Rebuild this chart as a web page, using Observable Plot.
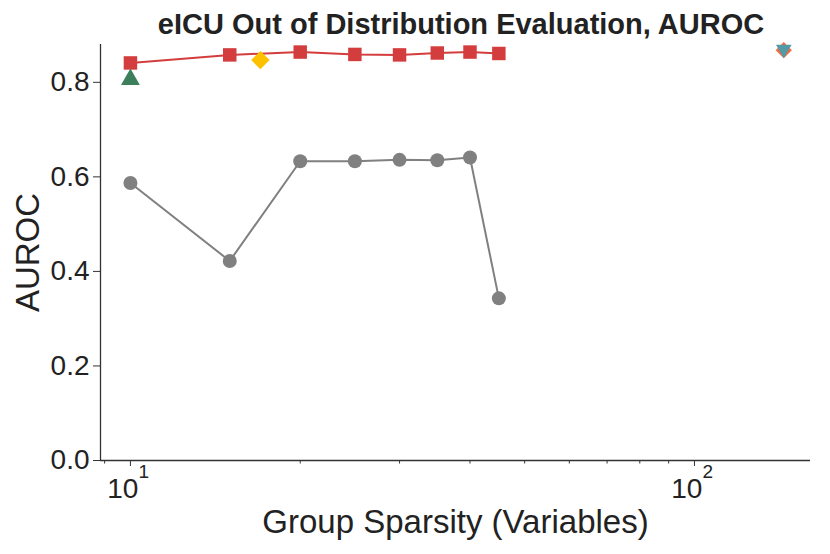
<!DOCTYPE html>
<html>
<head>
<meta charset="utf-8">
<script src="https://cdn.jsdelivr.net/npm/d3@7"></script>
<script src="https://cdn.jsdelivr.net/npm/@observablehq/plot@0.6"></script>
<style>
  body { margin: 0; background: #fff; }
  #title { height: 40px; width: 830px; position: relative; font-family: "Liberation Sans", Arial, sans-serif; font-weight: bold; font-size: 29px; line-height: 29px; color: #222; }
  #title span { position: absolute; left: 461px; top: 10px; transform: translateX(-50%); white-space: nowrap; }
</style>
</head>
<body>
<div id="title"><span>eICU Out of Distribution Evaluation, AUROC</span></div>
<div id="chart"></div>
<script>
// Data
const sparsity = [10, 15, 20, 25, 30, 35, 40, 45];
const redAUROC = [0.841, 0.858, 0.864, 0.859, 0.858, 0.862, 0.864, 0.861];
const greyAUROC = [0.587, 0.422, 0.633, 0.633, 0.636, 0.635, 0.641, 0.343];
const greenX = [10];      const greenY = [0.806];
const yellowX = [17];     const yellowY = [0.847];
const orangeX = [144];    const orangeY = [0.868];
const blueX = [144];      const blueY = [0.870];

const yTicks = [0, 0.2, 0.4, 0.6, 0.8];
const xMajorTicks = [10, 100];
const xMajorBase = ["10", "10"];
const xMajorExp = ["1", "2"];
const xMinorTicks = [9, 20, 30, 40, 50, 60, 70, 80, 90];
const xLabel = "Group Sparsity (Variables)";
const yLabel = "AUROC";

const xDomain = [8.85, 160.6];
const yDomain = [0, 0.88];

const red = sparsity.map((x, i) => ({x, y: redAUROC[i]}));
const grey = sparsity.map((x, i) => ({x, y: greyAUROC[i]}));
const pts = (xs, ys) => xs.map((x, i) => ({x, y: ys[i]}));
const majors = xMajorTicks.map((x, i) => ({x, base: xMajorBase[i], exp: xMajorExp[i]}));

const chart = Plot.plot({
  width: 830,
  height: 514,
  marginLeft: 100,
  marginRight: 20,
  marginTop: 4,
  marginBottom: 94,
  style: {fontFamily: "'Liberation Sans', Arial, sans-serif", fontSize: "28px", color: "#222", background: "#fff"},
  x: {type: "log", domain: xDomain},
  y: {domain: yDomain},
  marks: [
    Plot.axisX(xMinorTicks, {tickSize: 3.5, tickFormat: () => "", label: null, stroke: "#333"}),
    Plot.axisX(xMajorTicks, {tickSize: 6, tickFormat: () => "", label: null, stroke: "#333"}),
    Plot.text(majors, {x: "x", frameAnchor: "bottom", lineAnchor: "middle", text: "base", textAnchor: "end", dx: 8, dy: 29, fontSize: 28, fill: "#222"}),
    Plot.text(majors, {x: "x", frameAnchor: "bottom", lineAnchor: "middle", text: "exp", textAnchor: "start", dx: 8, dy: 11, fontSize: 19, fill: "#222"}),
    Plot.axisY(yTicks, {tickSize: 7, tickPadding: 4, tickFormat: d3.format(".1f"), label: null, stroke: "#333"}),
    Plot.text([xLabel], {frameAnchor: "bottom", lineAnchor: "middle", textAnchor: "middle", dy: 61.5, fontSize: 33, fill: "#222"}),
    Plot.text([yLabel], {frameAnchor: "left", lineAnchor: "middle", textAnchor: "middle", rotate: -90, dx: -72.5, fontSize: 33, fill: "#222"}),
    Plot.ruleX([xDomain[0]], {stroke: "#333", strokeWidth: 1.3}),
    Plot.ruleY([0], {stroke: "#333", strokeWidth: 1.3}),
    Plot.line(grey, {x: "x", y: "y", stroke: "#808080", strokeWidth: 2}),
    Plot.dot(grey, {x: "x", y: "y", symbol: "circle", r: 7, fill: "#808080"}),
    Plot.line(red, {x: "x", y: "y", stroke: "#d43d3d", strokeWidth: 2}),
    Plot.dot(red, {x: "x", y: "y", symbol: "square", r: 7.6, fill: "#d43d3d"}),
    Plot.dot(pts(greenX, greenY), {x: "x", y: "y", symbol: "triangle", r: 7, fill: "#3b7f5b"}),
    Plot.dot(pts(yellowX, yellowY), {x: "x", y: "y", symbol: "diamond2", r: 8.3, fill: "#fcc200"}),
    Plot.dot(pts(orangeX, orangeY), {x: "x", y: "y", symbol: "diamond2", r: 7.3, fill: "#f36b3a"}),
    Plot.dot(pts(blueX, blueY), {x: "x", y: "y", symbol: "triangle", rotate: 180, r: 5.8, fill: "#5499a6"})
  ]
});
document.getElementById("chart").appendChild(chart);
</script>
</body>
</html>
